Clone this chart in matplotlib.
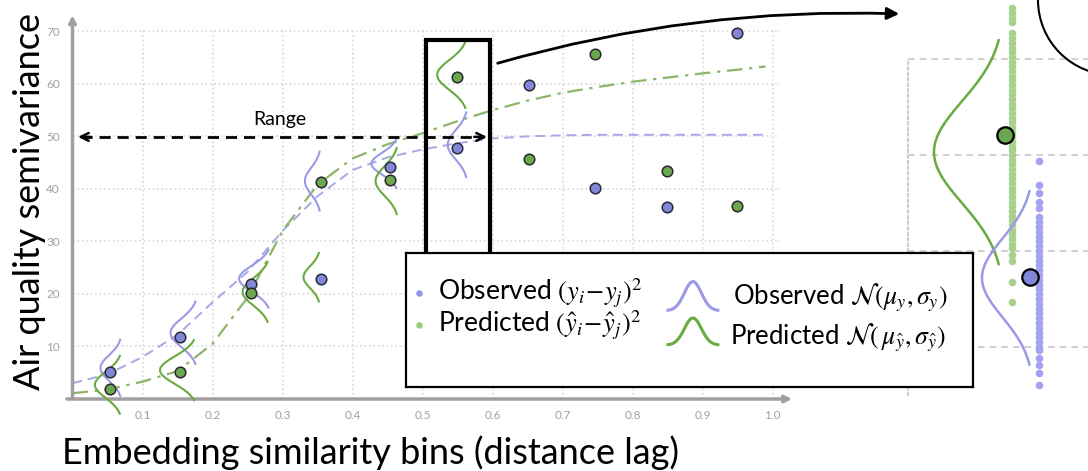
import matplotlib.pyplot as plt
import numpy as np
from matplotlib.patches import Ellipse, FancyArrowPatch, Rectangle

plt.rcParams["font.family"] = ["Lato", "DejaVu Sans"]
plt.rcParams["mathtext.fontset"] = "stix"

W, H = 1088, 471

## Dados do semivariograma
bins_x = [0.054, 0.154, 0.255, 0.355, 0.454, 0.549, 0.652, 0.746, 0.849, 0.949]
observado = [5.1, 11.8, 21.9, 22.9, 44.2, 47.8, 59.8, 40.2, 36.6, 69.7]
predito = [1.9, 5.1, 20.2, 41.3, 41.7, 61.3, 45.7, 65.7, 43.4, 36.8]

ajuste_x = [0.0, 0.05, 0.1, 0.15, 0.2, 0.25, 0.3, 0.35, 0.4, 0.45, 0.5,
            0.55, 0.6, 0.65, 0.7, 0.75, 0.8, 0.85, 0.9, 0.95, 0.99]
ajuste_obs = [3.0, 4.7, 8.0, 12.2, 18.4, 24.2, 32.0, 38.6, 43.6, 46.0, 47.5,
              48.7, 49.6, 50.0, 50.2, 50.3, 50.3, 50.3, 50.3, 50.3, 50.3]
ajuste_pred = [1.1, 1.8, 3.3, 5.3, 10.5, 19.3, 32.0, 40.8, 45.8, 48.5, 50.6,
               52.9, 55.0, 56.8, 58.3, 59.4, 60.4, 61.2, 62.0, 62.7, 63.3]

x_ticks = [0.1, 0.2, 0.3, 0.4, 0.5, 0.6, 0.7, 0.8, 0.9, 1.0]
y_ticks = [10, 20, 30, 40, 50, 60, 70]

## Distribuicoes por bin (base, media, desvio, altura do pico)
sino_obs_base = [0.071, 0.179, 0.284, 0.355, 0.466, 0.565]
sino_obs_media = [5.9, 12.6, 22.9, 41.5, 44.8, 48.4]
sino_obs_desvio = [2.45, 2.7, 2.5, 2.55, 2.1, 2.8]
sino_obs_pico = [0.031, 0.039, 0.046, 0.023, 0.039, 0.029]

sino_pred_base = [0.071, 0.178, 0.282, 0.354, 0.466, 0.565]
sino_pred_media = [2.7, 5.5, 20.4, 23.2, 41.5, 61.7]
sino_pred_desvio = [2.5, 2.6, 2.6, 2.1, 2.85, 2.85]
sino_pred_pico = [0.039, 0.053, 0.039, 0.024, 0.033, 0.044]

## Amostras do bin em destaque (painel da direita)
amostras_pred = [75.3, 74.8, 74.3, 73.9, 72.7, 72.2, 71.7, 71.1, 70.7, 70.2,
                 69.7, 69.3, 68.8, 68.2, 67.8, 67.3, 66.8, 66.4, 65.8, 65.3,
                 64.9, 64.4, 63.9, 63.4, 62.9, 62.4, 62.0, 61.5, 60.9, 60.5,
                 60.0, 59.5, 59.1, 58.5, 58.0, 57.6, 57.1, 56.6, 56.1, 55.6,
                 55.1, 54.7, 54.2, 53.6, 53.2, 52.7, 52.2, 51.8, 51.3, 50.7,
                 50.3, 49.6, 49.0, 46.8, 44.7]
amostras_obs = [59.4, 56.9, 56.0, 55.1, 54.5, 53.5, 53.0, 52.5, 52.0, 51.5,
                51.0, 50.5, 50.0, 49.5, 49.0, 48.5, 48.0, 47.5, 47.0, 46.5,
                46.0, 45.5, 45.0, 44.5, 44.0, 43.5, 43.0, 42.5, 42.0, 41.5,
                41.0, 40.5, 40.0, 39.7, 38.9, 38.1, 37.3, 36.0]
media_pred_bin = 62.1
media_obs_bin = 47.3

AZUL = "#8186d9"
VERDE = "#6aa84f"
AZUL_SINO = "#9a9ae6"
VERDE_SINO = "#6aaa40"
CINZA = "#a0a0a0"


def caixa(esq, topo, dir, base):
    # retangulo em pixels -> fracao da figura
    return [esq / W, 1 - base / H, (dir - esq) / W, (base - topo) / H]


def px(x, y):
    return (x / W, 1 - y / H)


def sino_deitado(eixo, base, media, desvio, pico, cor, lw=1.5):
    yy = np.linspace(media - 2.2 * desvio, media + 2.2 * desvio, 80)
    xx = base - pico * np.exp(-0.5 * ((yy - media) / desvio) ** 2)
    eixo.plot(xx, yy, color=cor, lw=lw, clip_on=False, zorder=3)


fig = plt.figure(figsize=(W / 100, H / 100), dpi=100)

## Grafico principal
ax = fig.add_axes(caixa(72.5, 14, 790, 399))
ax.set_xlim(0, 1.025)
ax.set_ylim(0, 73.3)
for s in ax.spines.values():
    s.set_visible(False)

ax.vlines(x_ticks, 0, 70, colors="#d8d8d8", linestyles=":", lw=1.2, zorder=0)
ax.hlines(y_ticks, 0, 1.01, colors="#d8d8d8", linestyles=":", lw=1.2, zorder=0)

ax.set_xticks(x_ticks)
ax.set_xticklabels([f"{v:.1f}" for v in x_ticks])
ax.set_yticks(y_ticks)
ax.tick_params(length=0, labelsize=8.5, labelcolor=CINZA)
ax.tick_params(axis="x", pad=8)
ax.tick_params(axis="y", pad=9)

ax.annotate("", xy=(1.032, 0), xytext=(-0.012, 0), xycoords="data",
            arrowprops=dict(arrowstyle="-|>", color=CINZA, lw=2.5, mutation_scale=10),
            annotation_clip=False)
ax.annotate("", xy=(0, 73.6), xytext=(0, -0.4), xycoords="data",
            arrowprops=dict(arrowstyle="-|>", color=CINZA, lw=2.5, mutation_scale=10),
            annotation_clip=False)

ax.plot(ajuste_x, ajuste_obs, color="#a8a8e6", ls=(0, (5, 3)), lw=1.4, zorder=2)
ax.plot(ajuste_x, ajuste_pred, color="#8db56a", ls=(0, (7, 3, 1.5, 3)), lw=1.6, zorder=2)

for i in range(len(sino_obs_base)):
    sino_deitado(ax, sino_obs_base[i], sino_obs_media[i], sino_obs_desvio[i],
                 sino_obs_pico[i], AZUL_SINO)
    sino_deitado(ax, sino_pred_base[i], sino_pred_media[i], sino_pred_desvio[i],
                 sino_pred_pico[i], VERDE_SINO)

ax.scatter(bins_x, observado, s=58, c=AZUL, edgecolors="#2a2a3a", lw=1.1, zorder=5)
ax.scatter(bins_x, predito, s=58, c=VERDE, edgecolors="#2a2a2a", lw=1.1, zorder=5)

## Alcance (range)
ax.plot([0.012, 0.588], [49.9, 49.9], color="black", ls=(0, (4, 2.5)), lw=2, zorder=4)
for ponta, origem in ((0.004, 0.03), (0.596, 0.57)):
    ax.annotate("", xy=(ponta, 49.9), xytext=(origem, 49.9),
                arrowprops=dict(arrowstyle="->", color="black", lw=1.8, mutation_scale=14))
ax.text(0.296, 53.3, "Range", ha="center", va="center", fontsize=14)

ax.add_patch(Rectangle((0.505, 3), 0.091, 65.4, fill=False, lw=3, ec="black", zorder=6))

## Painel de detalhe
ins = fig.add_axes(caixa(908, 59, 1088, 395))
ins.set_xlim(0, 1.8)
ins.set_ylim(35, 70)
ins.set_xticks([])
ins.set_yticks([])
for nome, s in ins.spines.items():
    s.set_visible(nome == "left")
ins.spines["left"].set_linestyle(":")
ins.spines["left"].set_color("#cccccc")
ins.spines["left"].set_linewidth(1.5)
for y in (40, 50, 60, 70):
    ins.axhline(y, color="#c8c8c8", ls=(0, (4, 3)), lw=1.2, clip_on=False, zorder=0)

ins.scatter([1.04] * len(amostras_pred), amostras_pred, s=30, c="#a9d18e", lw=0,
            clip_on=False, zorder=2)
ins.scatter([1.31] * len(amostras_obs), amostras_obs, s=30, c="#a3a3f2", lw=0,
            clip_on=False, zorder=2)
sino_deitado(ins, 0.97, 60.3, 5.3, 0.71, VERDE_SINO, lw=1.8)
sino_deitado(ins, 1.26, 47.2, 4.1, 0.52, AZUL_SINO, lw=1.8)
ins.scatter([0.97], [media_pred_bin], s=140, c=VERDE, edgecolors="black", lw=1.6,
            clip_on=False, zorder=5)
ins.scatter([1.22], [media_obs_bin], s=140, c=AZUL, edgecolors="black", lw=1.6,
            clip_on=False, zorder=5)

## Legenda
lg = fig.add_axes(caixa(406, 253, 973, 387), zorder=10)
lg.set_xlim(0, 1)
lg.set_ylim(0, 1)
lg.set_xticks([])
lg.set_yticks([])
for s in lg.spines.values():
    s.set_linewidth(1.6)
lg.scatter([0.023], [0.70], s=22, c="#8f94e6", lw=0)
lg.scatter([0.023], [0.463], s=22, c="#9ccc7e", lw=0)
lg.text(0.056, 0.70, r"Observed $(y_i\!-\!y_j)^2$", va="center", fontsize=19)
lg.text(0.056, 0.463, r"Predicted $(\hat{y}_i\!-\!\hat{y}_j)^2$", va="center", fontsize=19)
xs = np.linspace(0.462, 0.550, 60)
lg.plot(xs, 0.57 + 0.217 * np.exp(-0.5 * ((xs - 0.506) / 0.015) ** 2), color=AZUL_SINO, lw=2.2)
lg.plot(xs, 0.313 + 0.202 * np.exp(-0.5 * ((xs - 0.506) / 0.015) ** 2), color=VERDE_SINO, lw=2.2)
lg.text(0.577, 0.664, r"Observed $\mathcal{N}\left(\mu_y, \sigma_y\right)$", va="center",
        fontsize=18.5)
lg.text(0.571, 0.366, r"Predicted $\mathcal{N}\left(\,\mu_{\hat{y}}, \sigma_{\hat{y}}\right)$",
        va="center", fontsize=18.5)

## Seta curva e balao
fig.add_artist(FancyArrowPatch(px(495, 64), px(902, 14), transform=fig.transFigure,
                               connectionstyle="arc3,rad=-0.08", arrowstyle="-|>",
                               mutation_scale=18, lw=2, color="black"))
fig.add_artist(Ellipse(px(1113, 0), 150 / W, 150 / H, transform=fig.transFigure,
                       fill=False, ec="black", lw=1.5))

fig.text(*px(30, 202), "Air quality semivariance", rotation=90, ha="center",
         va="center", fontsize=26)
fig.text(*px(62, 453), "Embedding similarity bins (distance lag)", ha="left",
         va="center", fontsize=26)

fig.savefig("out.png", dpi=100)
